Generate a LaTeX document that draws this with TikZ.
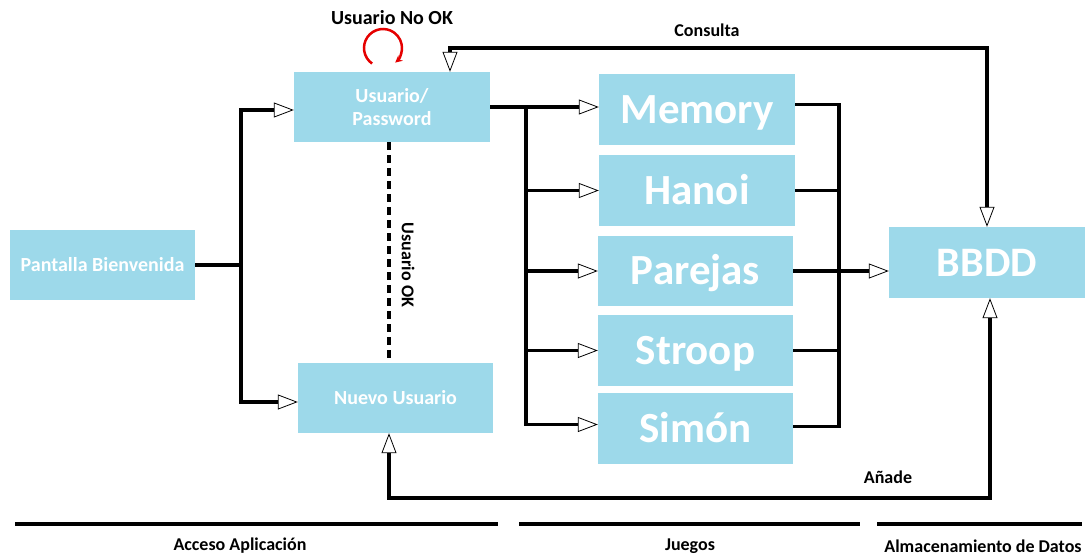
\documentclass[tikz,border=0pt]{standalone}
\usepackage{fontspec}
\setmainfont{Carlito}
\usetikzlibrary{arrows.meta}
\definecolor{boxblue}{RGB}{157,217,234}
\tikzset{
  box/.style={fill=boxblue, text=white, inner sep=0pt, align=center, font=\bfseries\fontsize{20}{23}\selectfont},
  bigbox/.style={box, font=\bfseries\fontsize{43}{46}\selectfont, text height=27.5pt, text depth=0pt},
  wire/.style={line width=3.2pt, draw=black},
  tipw/.tip={Triangle[length=20pt, width=15pt, fill=white, line width=0.8pt]},
  arr/.style={wire, -tipw},
  arrboth/.style={wire, tipw-tipw},
  lbl/.style={font=\bfseries\fontsize{18}{22}\selectfont, text=black, inner sep=0pt},
}
\begin{document}
\begin{tikzpicture}[x=1pt, y=-1pt]
\useasboundingbox (0,0) rectangle (1085,557);
% boxes
\node[box, minimum width=185pt, minimum height=70pt] (pant) at (102.5,265) {Pantalla Bienvenida};
\node[box, minimum width=196pt, minimum height=70pt] (user) at (392,107) {Usuario/\\Password};
\node[box, minimum width=195pt, minimum height=70pt] (nuevo) at (395.5,398) {Nuevo Usuario};
\node[bigbox, minimum width=196pt, minimum height=71pt] (mem) at (697,109.5) {Memory};
\node[bigbox, minimum width=196pt, minimum height=71pt] (hanoi) at (697,190.5) {Hanoi};
\node[bigbox, minimum width=195pt, minimum height=70pt] (parejas) at (695.5,271) {Parejas};
\node[bigbox, minimum width=195pt, minimum height=71pt] (stroop) at (695.5,350.5) {Stroop};
\node[bigbox, minimum width=195pt, minimum height=71pt] (simon) at (695.5,428.5) {Simón};
\node[bigbox, font=\bfseries\fontsize{42}{46}\selectfont, text height=27pt, minimum width=196pt, minimum height=71pt] (bbdd) at (987,262.5) {BBDD};
% junctions
\coordinate (j1) at (241,265);
\coordinate (j2) at (526,107);
\coordinate (j3) at (839,271);
\coordinate (c1) at (450,48);
\coordinate (c2) at (389,498);
% left fork
\draw[wire] (pant.east) -- (j1);
\draw[arr] (j1) |- ([yshift=-3pt]user.west);
\draw[arr] (j1) |- ([yshift=-4pt]nuevo.west);
% games fork
\draw[arr] (user.east) -- (user.east -| mem.west);
\draw[arr] (j2) |- (hanoi.west);
\draw[arr] (j2) |- (parejas.west);
\draw[arr] (j2) |- (stroop.west);
\draw[arr] (j2) |- ([yshift=4pt]simon.west);
% games to BBDD
\draw[wire] ([yshift=5pt]mem.east) -| (j3);
\draw[wire] (hanoi.east) -| (j3);
\draw[wire] (stroop.east) -| (j3);
\draw[wire] ([yshift=2pt]simon.east) -| (j3);
\draw[arr] (parejas.east) -- (parejas.east -| bbdd.west);
% consulta
\draw[arrboth] (user.north -| c1) -- (c1) -| (bbdd.north);
% añade
\draw[arrboth] (nuevo.south -| c2) -- (c2) -| ([xshift=3pt]bbdd.south);
% dashed
\draw[wire, dash pattern=on 8pt off 5pt] (user.south -| c2) -- (nuevo.north -| c2);
% red loop
\draw[red!90!black, line width=2.5pt, -{Stealth[length=7pt,width=7pt]}] (383,48) ++(125:19) arc[start angle=125, end angle=410, radius=19];
% labels
\node[lbl, font=\bfseries\fontsize{20}{23}\selectfont] (nook) at (392,18) {Usuario No OK};
\node[lbl] (cons) at (707,30) {Consulta};
\node[lbl, rotate=-90] (ok) at (408,265) {Usuario OK};
\node[lbl] (anade) at (888,477) {Añade};
% bottom sections
\draw[line width=3.8pt] (15,524) -- (498,524);
\draw[line width=3.8pt] (519,524) -- (860,524);
\draw[line width=3.8pt] (877,524) -- (1082,524);
\node[lbl] (s1) at (240,546) {Acceso Aplicación};
\node[lbl] (s2) at (690,546) {Juegos};
\node[lbl] (s3) at (983,546) {Almacenamiento de Datos};
\end{tikzpicture}
\end{document}
